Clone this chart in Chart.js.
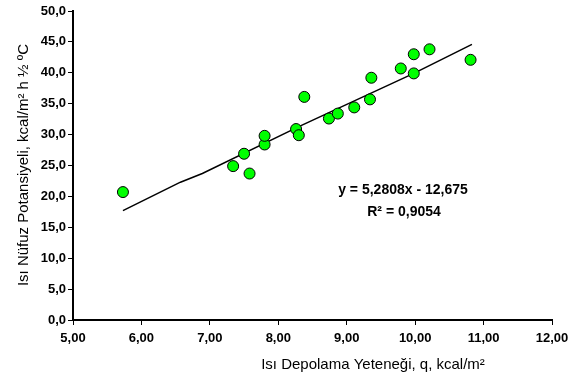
<!DOCTYPE html>
<html>
<head>
<meta charset="utf-8">
<script src="https://cdn.jsdelivr.net/npm/chart.js@4"></script>
<style>
  html, body { margin: 0; padding: 0; background: #fff; }
  #wrap { width: 577px; height: 388px; }
</style>
</head>
<body>
<div id="wrap"><canvas id="chart" width="577" height="388"></canvas></div>
<script>
// measured values (x = heat storage capacity, y = heat penetration potential)
const storageQ = [5.73, 7.34, 7.50, 7.58, 7.80, 7.80, 8.26, 8.30, 8.38, 8.74, 8.87, 9.11, 9.34, 9.36, 9.79, 9.98, 9.98, 10.21, 10.81];
const penetration = [20.7, 24.9, 26.9, 23.7, 28.4, 29.8, 30.9, 29.9, 36.1, 32.6, 33.4, 34.4, 35.7, 39.2, 40.7, 43.0, 39.9, 43.8, 42.1];

// trend line as it appears in the figure
const trendX = [5.73, 6.57, 6.89, 8.30, 9.08, 9.98, 10.83];
const trendY = [17.7, 22.3, 23.7, 31.3, 35.3, 39.9, 44.6];

const xTitle = 'Isı Depolama Yeteneği, q, kcal/m²';
const yTitle = 'Isı Nüfuz Potansiyeli, kcal/m² h ½ ºC';
const eqLines = ['y = 5,2808x - 12,675', 'R² = 0,9054'];

const FONT = '"Liberation Sans", Arial, sans-serif';

const textPlugin = {
  id: 'textPlugin',
  afterDraw(chart) {
    const ctx = chart.ctx;
    ctx.save();
    ctx.fillStyle = '#000';
    ctx.textAlign = 'center';
    ctx.textBaseline = 'middle';
    ctx.font = 'bold 14px ' + FONT;
    ctx.fillText(eqLines[0], 403, 190);
    ctx.fillText(eqLines[1], 404, 212);

    ctx.font = '15px ' + FONT;
    ctx.fillText(xTitle, 373, 365);

    ctx.translate(24, 165);
    ctx.rotate(-Math.PI / 2);
    ctx.fillText(yTitle, 0, 0);
    ctx.restore();
  }
};

const ctx = document.getElementById('chart').getContext('2d');
new Chart(ctx, {
  data: {
    datasets: [
      {
        type: 'scatter',
        data: storageQ.map((q, i) => ({ x: q, y: penetration[i] })),
        backgroundColor: '#00ff00',
        borderColor: '#000',
        borderWidth: 1,
        pointRadius: 5.5,
        order: 1
      },
      {
        type: 'line',
        data: trendX.map((q, i) => ({ x: q, y: trendY[i] })),
        borderColor: '#000',
        borderWidth: 1.5,
        pointRadius: 0,
        fill: false,
        tension: 0,
        order: 2
      }
    ]
  },
  options: {
    responsive: false,
    animation: false,
    events: [],
    layout: { padding: { top: 11, right: 25, left: 0, bottom: 0 } },
    plugins: { legend: { display: false }, tooltip: { enabled: false } },
    scales: {
      x: {
        type: 'linear',
        min: 5, max: 12,
        afterFit(scale) { scale.height = 68; },
        border: { display: true, color: '#000', width: 2 },
        grid: { drawOnChartArea: false, drawTicks: true, tickLength: 5, color: '#000' },
        ticks: {
          stepSize: 1,
          color: '#000',
          padding: 6,
          font: { family: FONT, size: 13, weight: 'bold' },
          callback: v => v.toFixed(2).replace('.', ',')
        }
      },
      y: {
        min: 0, max: 50,
        afterFit(scale) { scale.width = 73; },
        border: { display: true, color: '#000', width: 2 },
        grid: { drawOnChartArea: false, drawTicks: true, tickLength: 5, color: '#000' },
        ticks: {
          stepSize: 5,
          color: '#000',
          padding: 2,
          font: { family: FONT, size: 13, weight: 'bold' },
          callback: v => v.toFixed(1).replace('.', ',')
        }
      }
    }
  },
  plugins: [textPlugin]
});
</script>
</body>
</html>
